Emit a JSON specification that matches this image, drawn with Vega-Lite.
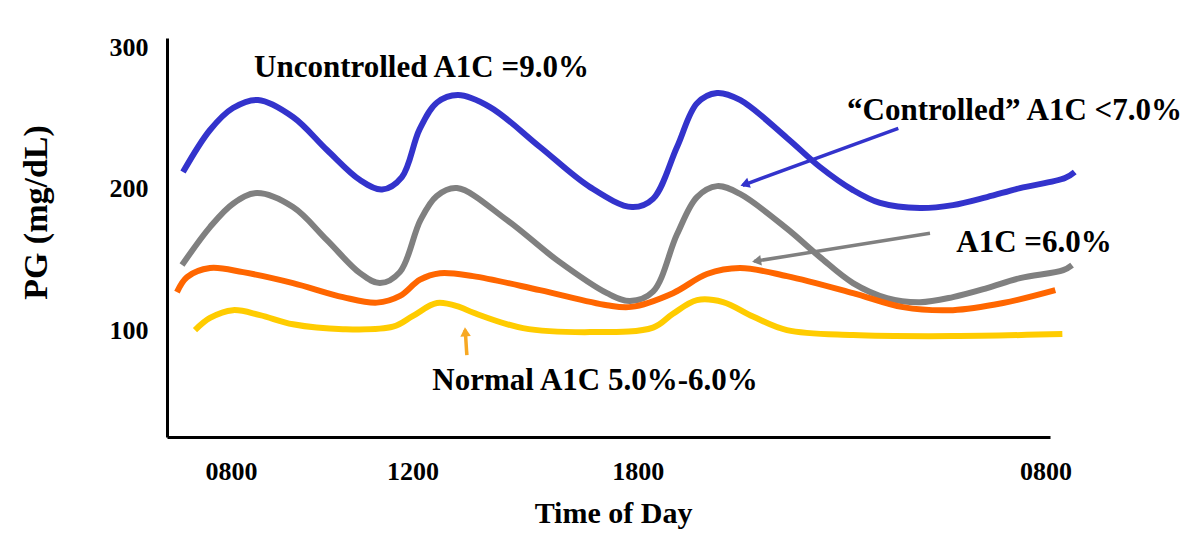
{
  "$schema": "https://vega.github.io/schema/vega-lite/v6.json",
  "autosize": {"type": "none"},
  "width": 883,
  "height": 399,
  "padding": {"left": 167, "top": 38, "right": 150, "bottom": 114},
  "background": "white",
  "config": {"view": {"stroke": null}},
  "datasets": {
    "curves": [
      {"series": "Uncontrolled", "t": 1.81, "pg": 211.9},
      {"series": "Uncontrolled", "t": 4.87, "pg": 241.6},
      {"series": "Uncontrolled", "t": 7.47, "pg": 257.1},
      {"series": "Uncontrolled", "t": 10.31, "pg": 262.8},
      {"series": "Uncontrolled", "t": 14.27, "pg": 250.8},
      {"series": "Uncontrolled", "t": 18.12, "pg": 227.5},
      {"series": "Uncontrolled", "t": 21.86, "pg": 206.3},
      {"series": "Uncontrolled", "t": 24.35, "pg": 199.6},
      {"series": "Uncontrolled", "t": 26.6, "pg": 208.4},
      {"series": "Uncontrolled", "t": 28.6, "pg": 242.0},
      {"series": "Uncontrolled", "t": 30.58, "pg": 261.0},
      {"series": "Uncontrolled", "t": 32.96, "pg": 266.3},
      {"series": "Uncontrolled", "t": 36.58, "pg": 257.8},
      {"series": "Uncontrolled", "t": 42.24, "pg": 229.6},
      {"series": "Uncontrolled", "t": 47.91, "pg": 201.3},
      {"series": "Uncontrolled", "t": 52.66, "pg": 187.2},
      {"series": "Uncontrolled", "t": 55.04, "pg": 193.0},
      {"series": "Uncontrolled", "t": 57.76, "pg": 229.6},
      {"series": "Uncontrolled", "t": 60.03, "pg": 260.5},
      {"series": "Uncontrolled", "t": 62.29, "pg": 267.7},
      {"series": "Uncontrolled", "t": 64.89, "pg": 262.8},
      {"series": "Uncontrolled", "t": 70.21, "pg": 236.0},
      {"series": "Uncontrolled", "t": 73.95, "pg": 215.5},
      {"series": "Uncontrolled", "t": 77.69, "pg": 199.2},
      {"series": "Uncontrolled", "t": 80.75, "pg": 190.1},
      {"series": "Uncontrolled", "t": 85.28, "pg": 186.5},
      {"series": "Uncontrolled", "t": 89.01, "pg": 188.6},
      {"series": "Uncontrolled", "t": 92.87, "pg": 194.3},
      {"series": "Uncontrolled", "t": 96.6, "pg": 200.6},
      {"series": "Uncontrolled", "t": 101.7, "pg": 207.7},
      {"series": "Uncontrolled", "t": 102.8, "pg": 212.0},
      {"series": "Controlled", "t": 1.7, "pg": 146.3},
      {"series": "Controlled", "t": 4.87, "pg": 173.1},
      {"series": "Controlled", "t": 7.51, "pg": 189.8},
      {"series": "Controlled", "t": 10.19, "pg": 197.1},
      {"series": "Controlled", "t": 14.27, "pg": 187.2},
      {"series": "Controlled", "t": 18.12, "pg": 163.9},
      {"series": "Controlled", "t": 21.86, "pg": 140.6},
      {"series": "Controlled", "t": 24.12, "pg": 133.6},
      {"series": "Controlled", "t": 26.39, "pg": 141.5},
      {"series": "Controlled", "t": 28.7, "pg": 178.0},
      {"series": "Controlled", "t": 30.54, "pg": 195.0},
      {"series": "Controlled", "t": 32.84, "pg": 200.6},
      {"series": "Controlled", "t": 38.51, "pg": 178.0},
      {"series": "Controlled", "t": 44.17, "pg": 149.8},
      {"series": "Controlled", "t": 49.83, "pg": 126.5},
      {"series": "Controlled", "t": 52.43, "pg": 120.9},
      {"series": "Controlled", "t": 55.04, "pg": 127.5},
      {"series": "Controlled", "t": 57.76, "pg": 168.0},
      {"series": "Controlled", "t": 60.02, "pg": 194.3},
      {"series": "Controlled", "t": 62.29, "pg": 202.0},
      {"series": "Controlled", "t": 64.89, "pg": 196.5},
      {"series": "Controlled", "t": 70.21, "pg": 172.0},
      {"series": "Controlled", "t": 73.95, "pg": 151.9},
      {"series": "Controlled", "t": 77.69, "pg": 133.6},
      {"series": "Controlled", "t": 81.54, "pg": 123.0},
      {"series": "Controlled", "t": 85.28, "pg": 120.1},
      {"series": "Controlled", "t": 89.01, "pg": 123.7},
      {"series": "Controlled", "t": 92.87, "pg": 130.0},
      {"series": "Controlled", "t": 96.6, "pg": 137.1},
      {"series": "Controlled", "t": 101.5, "pg": 142.7},
      {"series": "Controlled", "t": 102.5, "pg": 146.3},
      {"series": "A1C 6.0", "t": 1.13, "pg": 127.2},
      {"series": "A1C 6.0", "t": 2.27, "pg": 137.8},
      {"series": "A1C 6.0", "t": 4.87, "pg": 144.2},
      {"series": "A1C 6.0", "t": 8.61, "pg": 141.3},
      {"series": "A1C 6.0", "t": 14.27, "pg": 133.6},
      {"series": "A1C 6.0", "t": 19.93, "pg": 123.7},
      {"series": "A1C 6.0", "t": 23.78, "pg": 119.8},
      {"series": "A1C 6.0", "t": 26.39, "pg": 124.5},
      {"series": "A1C 6.0", "t": 28.65, "pg": 136.0},
      {"series": "A1C 6.0", "t": 30.92, "pg": 140.6},
      {"series": "A1C 6.0", "t": 34.65, "pg": 138.5},
      {"series": "A1C 6.0", "t": 42.24, "pg": 128.6},
      {"series": "A1C 6.0", "t": 49.83, "pg": 118.0},
      {"series": "A1C 6.0", "t": 52.57, "pg": 116.8},
      {"series": "A1C 6.0", "t": 57.3, "pg": 126.5},
      {"series": "A1C 6.0", "t": 61.15, "pg": 140.0},
      {"series": "A1C 6.0", "t": 64.89, "pg": 144.2},
      {"series": "A1C 6.0", "t": 70.21, "pg": 138.5},
      {"series": "A1C 6.0", "t": 77.69, "pg": 126.5},
      {"series": "A1C 6.0", "t": 83.35, "pg": 116.6},
      {"series": "A1C 6.0", "t": 89.01, "pg": 114.5},
      {"series": "A1C 6.0", "t": 94.68, "pg": 119.5},
      {"series": "A1C 6.0", "t": 100.6, "pg": 128.6},
      {"series": "Normal", "t": 3.17, "pg": 100.4},
      {"series": "Normal", "t": 4.87, "pg": 109.0},
      {"series": "Normal", "t": 7.47, "pg": 114.5},
      {"series": "Normal", "t": 10.53, "pg": 111.0},
      {"series": "Normal", "t": 14.27, "pg": 104.5},
      {"series": "Normal", "t": 19.93, "pg": 101.1},
      {"series": "Normal", "t": 25.59, "pg": 102.8},
      {"series": "Normal", "t": 27.86, "pg": 110.5},
      {"series": "Normal", "t": 30.58, "pg": 119.5},
      {"series": "Normal", "t": 33.18, "pg": 116.6},
      {"series": "Normal", "t": 34.65, "pg": 112.8},
      {"series": "Normal", "t": 40.32, "pg": 101.8},
      {"series": "Normal", "t": 47.91, "pg": 99.0},
      {"series": "Normal", "t": 55.04, "pg": 102.2},
      {"series": "Normal", "t": 57.3, "pg": 112.0},
      {"series": "Normal", "t": 60.02, "pg": 121.6},
      {"series": "Normal", "t": 62.97, "pg": 120.2},
      {"series": "Normal", "t": 66.36, "pg": 110.0},
      {"series": "Normal", "t": 70.21, "pg": 100.4},
      {"series": "Normal", "t": 77.69, "pg": 96.9},
      {"series": "Normal", "t": 89.01, "pg": 96.2},
      {"series": "Normal", "t": 101.4, "pg": 97.6}
    ],
    "labels": [
      {"label": "Uncontrolled A1C =9.0%", "t": 28.82, "pg": 279.2},
      {"label": "“Controlled” A1C <7.0%", "t": 95.98, "pg": 248.6},
      {"label": "A1C =6.0%", "t": 98.19, "pg": 155.7},
      {"label": "Normal A1C 5.0%-6.0%", "t": 48.47, "pg": 58.0}
    ],
    "arrows": [
      {"arrow": "controlled", "t": 82.82, "pg": 242.8, "t2": 65.2, "pg2": 202.6},
      {"arrow": "a1c6", "t": 86.41, "pg": 168.7, "t2": 66.5, "pg2": 148.9},
      {"arrow": "normal", "t": 33.96, "pg": 82.7, "t2": 33.77, "pg2": 100.5}
    ],
    "heads": [
      {"arrow": "controlled", "t": 65.43, "pg": 203.3},
      {"arrow": "a1c6", "t": 66.77, "pg": 149.2},
      {"arrow": "normal", "t": 33.78, "pg": 99.2}
    ]
  },
  "encoding": {
    "x": {
      "field": "t", "type": "quantitative",
      "scale": {"domain": [0, 100], "nice": false, "zero": false},
      "axis": {
        "title": "Time of Day",
        "values": [7.25, 27.8, 53.3, 99.5],
        "labelExpr": "datum.value < 20 ? '0800' : datum.value < 40 ? '1200' : datum.value < 70 ? '1800' : '0800'",
        "ticks": false, "tickSize": 0, "grid": false,
        "domainColor": "#000000", "domainWidth": 3,
        "labelFont": "Liberation Serif", "labelFontWeight": "bold", "labelFontSize": 26, "labelColor": "#000000",
        "labelPadding": 21, "labelFlush": false, "labelOverlap": false,
        "titleFont": "Liberation Serif", "titleFontWeight": "bold", "titleFontSize": 30, "titleColor": "#000000",
        "titlePadding": 14, "titleX": 446
      }
    },
    "y": {
      "field": "pg", "type": "quantitative",
      "scale": {"domain": [25, 306.5], "nice": false, "zero": false},
      "axis": {
        "title": "PG (mg/dL)",
        "values": [100, 200, 300],
        "ticks": false, "tickSize": 0, "grid": false,
        "domainColor": "#000000", "domainWidth": 3,
        "labelFont": "Liberation Serif", "labelFontWeight": "bold", "labelFontSize": 26, "labelColor": "#000000",
        "labelPadding": 19,
        "titleFont": "Liberation Serif", "titleFontWeight": "bold", "titleFontSize": 34, "titleColor": "#000000",
        "titleAngle": -90, "titleX": -131, "titleY": 174, "titleAlign": "center", "titleBaseline": "middle"
      }
    }
  },
  "layer": [
    {
      "data": {"name": "curves"},
      "mark": {"type": "line", "interpolate": "catmull-rom", "strokeWidth": 6, "strokeCap": "butt"},
      "encoding": {
        "color": {"field": "series", "type": "nominal", "legend": null,
          "scale": {"domain": ["Uncontrolled", "Controlled", "A1C 6.0", "Normal"], "range": ["#3333CC", "#808080", "#FF6600", "#FFCC00"]}},
        "order": {"field": "t", "type": "quantitative"}
      }
    },
    {
      "data": {"name": "arrows"},
      "mark": {"type": "rule", "strokeWidth": 3.5},
      "encoding": {
        "x2": {"field": "t2"},
        "y2": {"field": "pg2"},
        "color": {"field": "arrow", "type": "nominal", "legend": null,
          "scale": {"domain": ["controlled", "a1c6", "normal"], "range": ["#3333CC", "#808080", "#F7A823"]}}
      }
    },
    {
      "data": {"name": "heads"},
      "transform": [{"filter": "datum.arrow === 'controlled'"}],
      "mark": {"type": "point", "shape": "triangle-up", "filled": true, "size": 110, "angle": 250, "opacity": 1, "color": "#3333CC"}
    },
    {
      "data": {"name": "heads"},
      "transform": [{"filter": "datum.arrow === 'a1c6'"}],
      "mark": {"type": "point", "shape": "triangle-up", "filled": true, "size": 110, "angle": 261, "opacity": 1, "color": "#808080"}
    },
    {
      "data": {"name": "heads"},
      "transform": [{"filter": "datum.arrow === 'normal'"}],
      "mark": {"type": "point", "shape": "triangle-up", "filled": true, "size": 110, "angle": 356, "opacity": 1, "color": "#F7A823"}
    },
    {
      "data": {"name": "labels"},
      "mark": {"type": "text", "font": "Liberation Serif", "fontWeight": "bold", "fontSize": 31, "color": "#000000", "align": "center", "baseline": "alphabetic"},
      "encoding": {"text": {"field": "label", "type": "nominal"}}
    }
  ],
  "resolve": {"scale": {"color": "independent"}}
}
